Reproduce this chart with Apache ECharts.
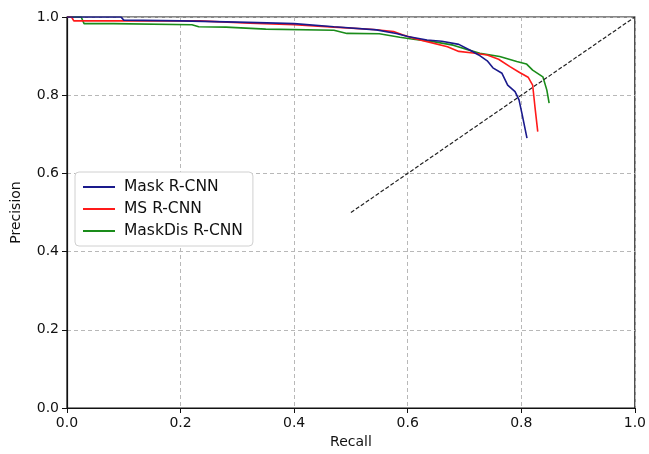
<!DOCTYPE html>
<html>
<head>
<meta charset="utf-8">
<script src="https://cdn.jsdelivr.net/npm/echarts@6/dist/echarts.min.js"></script>
<style>
  html, body { margin: 0; padding: 0; background: #fff; }
  #chart { width: 649px; height: 454px; }
</style>
</head>
<body>
<div id="chart"></div>
<script>
// [recall, precision] pairs
const maskRcnn = [
  [0, 1.0], [0.095, 1.0], [0.1, 0.992], [0.2, 0.99], [0.3, 0.987], [0.352, 0.985],
  [0.4, 0.983], [0.47, 0.975], [0.545, 0.967], [0.58, 0.958], [0.6, 0.95],
  [0.634, 0.941], [0.66, 0.938], [0.69, 0.93], [0.71, 0.915], [0.725, 0.903],
  [0.74, 0.888], [0.75, 0.87], [0.766, 0.856], [0.776, 0.826], [0.789, 0.809],
  [0.796, 0.788], [0.801, 0.754], [0.81, 0.69]
];
const msRcnn = [
  [0, 1.0], [0.008, 1.0], [0.012, 0.99], [0.1, 0.99], [0.234, 0.99], [0.322, 0.984],
  [0.4, 0.98], [0.47, 0.974], [0.54, 0.968], [0.575, 0.963], [0.592, 0.954],
  [0.61, 0.946], [0.634, 0.937], [0.67, 0.924], [0.69, 0.912], [0.715, 0.908],
  [0.74, 0.903], [0.76, 0.892], [0.78, 0.873], [0.797, 0.858], [0.812, 0.846],
  [0.82, 0.826], [0.824, 0.771], [0.829, 0.707]
];
const maskDisRcnn = [
  [0, 1.0], [0.025, 1.0], [0.03, 0.983], [0.082, 0.983], [0.085, 0.98], [0.22, 0.98],
  [0.232, 0.975], [0.28, 0.974], [0.35, 0.969], [0.47, 0.966], [0.493, 0.958],
  [0.55, 0.957], [0.586, 0.948], [0.61, 0.943], [0.645, 0.937], [0.68, 0.928],
  [0.727, 0.907], [0.762, 0.899], [0.792, 0.886], [0.809, 0.88], [0.82, 0.864],
  [0.838, 0.847], [0.845, 0.813], [0.849, 0.78]
];
const diagonal = [[0.5, 0.5], [1.0, 1.0]];

const seriesNames = ['Mask R-CNN', 'MS R-CNN', 'MaskDis R-CNN'];
const colors = ['#1a1a8c', '#ff1a1a', '#1a8c1a'];

const font = 'DejaVu Sans';
const chart = echarts.init(document.getElementById('chart'));

function axis(name, gap, rotate) {
  return {
    type: 'value',
    min: 0, max: 1, interval: 0.2,
    name: name,
    nameLocation: 'middle',
    nameGap: gap,
    nameRotate: rotate,
    nameTextStyle: { color: '#111', fontSize: 14, fontFamily: font },
    axisLine: { show: true, onZero: false, lineStyle: { color: '#111', width: 1.2 } },
    axisTick: { show: true, length: 5, lineStyle: { color: '#111' } },
    axisLabel: { color: '#111', fontSize: 14, fontFamily: font, margin: 8,
      formatter: v => v.toFixed(1) },
    splitLine: { show: true, lineStyle: { color: '#b8b8b8', type: [4, 3], width: 1 } }
  };
}

const series = [maskRcnn, msRcnn, maskDisRcnn].map((d, i) => ({
  name: seriesNames[i],
  type: 'line',
  data: d,
  symbol: 'none',
  lineStyle: { color: colors[i], width: 1.6 },
  itemStyle: { color: colors[i] },
  z: 3 - i
}));
series.push({
  name: 'diag',
  type: 'line',
  data: diagonal,
  symbol: 'none',
  lineStyle: { color: '#222', width: 1.2, type: [4, 2] },
  z: 1
});

chart.setOption({
  animation: false,
  backgroundColor: '#fff',
  grid: { left: 67, right: 14, top: 17, bottom: 46, show: true,
    borderColor: '#111', borderWidth: 1.2, backgroundColor: 'transparent' },
  xAxis: axis('Recall', 26, 0),
  yAxis: axis('Precision', 44, 90),
  legend: {
    data: seriesNames,
    orient: 'vertical',
    left: 75, top: 172,
    padding: [6, 10, 6, 8],
    itemGap: 4,
    itemWidth: 32, itemHeight: 2,
    icon: 'rect',
    backgroundColor: '#fff',
    borderColor: '#d0d0d0', borderWidth: 1, borderRadius: 4,
    textStyle: { color: '#111', fontSize: 15.5, fontFamily: font, padding: [0, 0, 0, 4], lineHeight: 18 }
  },
  series: series
});
</script>
</body>
</html>
